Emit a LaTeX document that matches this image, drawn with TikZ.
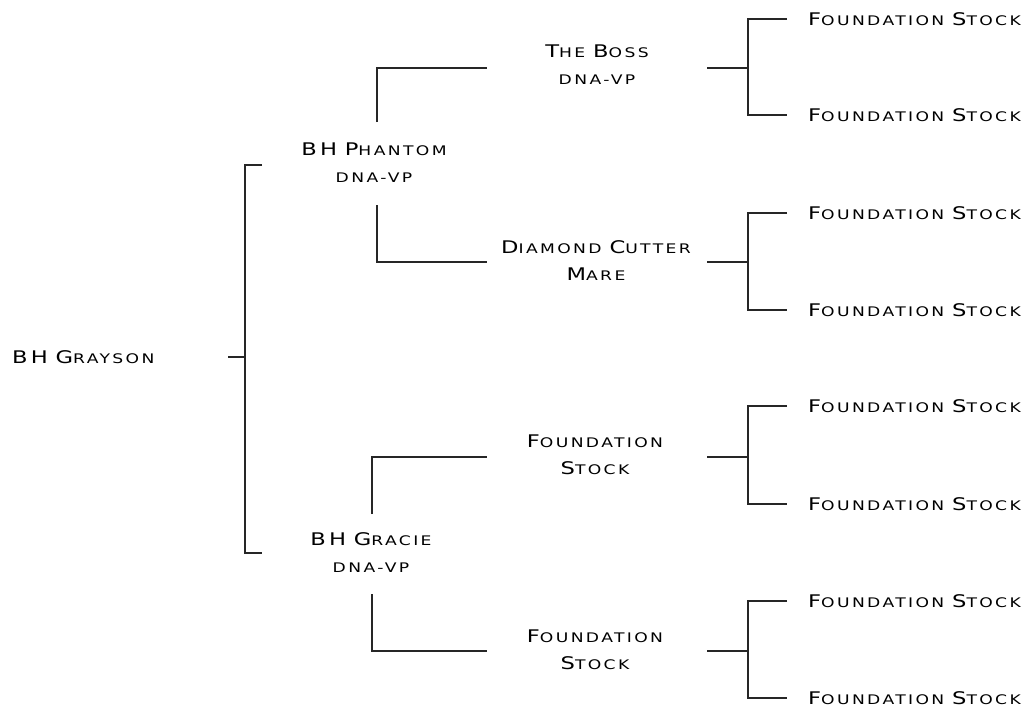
\documentclass[tikz,border=0pt]{standalone}
\usepackage{fontspec}
\newfontfamily\plaquefont[FakeStretch=1.3,LetterSpace=18]{DejaVu Sans}
\newcommand\bigc[1]{{\fontsize{17.4}{27}\selectfont #1}}
\usetikzlibrary{positioning}

\tikzset{
  horse/.style = {font=\fontsize{13.2}{27}\plaquefont, align=center, inner sep=0pt, text=black},
  line/.style = {line width=1.5pt, draw=black!85},
}

\begin{document}
\begin{tikzpicture}[x=1pt, y=-1pt]
\useasboundingbox (0,0) rectangle (1031,710);

% the horses
\node[horse, anchor=west] (grayson) at (12,357) {\bigc{BH} \bigc{G}RAYSON};
\node[horse] (phantom) at (374,163) {\bigc{BH} \bigc{P}HANTOM\\DNA-VP};
\node[horse] (gracie) at (371,553) {\bigc{BH} \bigc{G}RACIE\\DNA-VP};
\node[horse] (boss) at (597,65) {\bigc{T}HE \bigc{B}OSS\\DNA-VP};
\node[horse] (diamond) at (596,261) {\bigc{D}IAMOND \bigc{C}UTTER\\\bigc{M}ARE};
\node[horse] (found1) at (595,455) {\bigc{F}OUNDATION\\\bigc{S}TOCK};
\node[horse] (found2) at (595,650) {\bigc{F}OUNDATION\\\bigc{S}TOCK};
\foreach \y [count=\i] in {19,115,213,310,406,504,601,698}
  \node[horse, anchor=west] (leaf\i) at (808,\y) {\bigc{F}OUNDATION \bigc{S}TOCK};

% sire and dam of grayson
\coordinate (g-out) at (228,357);
\coordinate (g-fork) at (245,357);
\draw[line] (g-out) -- (g-fork);
\draw[line] (262,165) -| (g-fork) |- (262,553);

% second generation
\coordinate (ph-up) at (377,122);
\coordinate (ph-down) at (377,205);
\coordinate (gr-up) at (372,514);
\coordinate (gr-down) at (372,594);
\draw[line] (ph-up) |- (487,68);
\draw[line] (ph-down) |- (487,262);
\draw[line] (gr-up) |- (487,457);
\draw[line] (gr-down) |- (487,651);

% third generation
\foreach \p/\y/\a/\b in {boss/68/1/2, diamond/262/3/4, found1/457/5/6, found2/651/7/8} {
  \coordinate (\p-out) at (707,\y);
  \coordinate (\p-fork) at (748,\y);
  \draw[line] (\p-out) -- (\p-fork);
  \draw[line] ([xshift=-21pt]leaf\a.west) -| (\p-fork) |- ([xshift=-21pt]leaf\b.west);
}
\end{tikzpicture}
\end{document}
